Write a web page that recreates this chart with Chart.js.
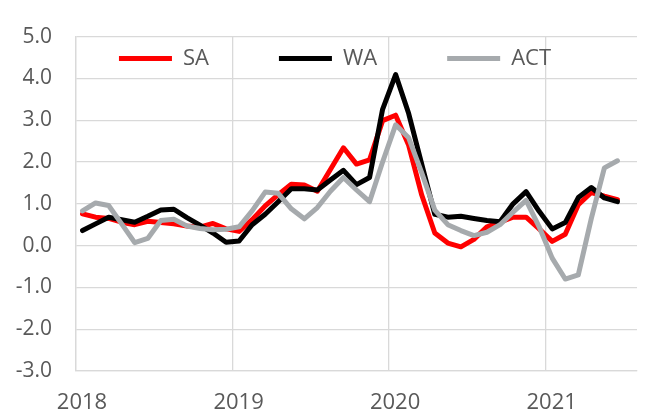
<!DOCTYPE html>
<html lang="en">
<head>
    <meta charset="UTF-8">
    <title>SA, WA, ACT</title>
    <script src="https://cdn.jsdelivr.net/npm/chart.js@4.4.1/dist/chart.umd.min.js"></script>
    <style>
        html, body { margin: 0; padding: 0; background: #fff; }
        #wrap { position: relative; width: 649px; height: 412px; overflow: hidden; }
    </style>
</head>
<body>
    <div id="wrap"><canvas id="chart"></canvas></div>

    <script>
        // Monthly series, Jan 2018 - Jun 2021
        const months = [
            'Jan-18', 'Feb-18', 'Mar-18', 'Apr-18', 'May-18', 'Jun-18', 'Jul-18', 'Aug-18', 'Sep-18', 'Oct-18', 'Nov-18', 'Dec-18',
            'Jan-19', 'Feb-19', 'Mar-19', 'Apr-19', 'May-19', 'Jun-19', 'Jul-19', 'Aug-19', 'Sep-19', 'Oct-19', 'Nov-19', 'Dec-19',
            'Jan-20', 'Feb-20', 'Mar-20', 'Apr-20', 'May-20', 'Jun-20', 'Jul-20', 'Aug-20', 'Sep-20', 'Oct-20', 'Nov-20', 'Dec-20',
            'Jan-21', 'Feb-21', 'Mar-21', 'Apr-21', 'May-21', 'Jun-21'
        ];
        const years = ['2018', '2019', '2020', '2021'];
        const yTicks = [-3, -2, -1, 0, 1, 2, 3, 4, 5];

        const sa = [
            0.76, 0.68, 0.65, 0.56, 0.50, 0.58, 0.55, 0.52, 0.47, 0.44, 0.53, 0.40,
            0.34, 0.62, 0.95, 1.22, 1.47, 1.45, 1.30, 1.82, 2.34, 1.95, 2.05, 2.99,
            3.12, 2.40, 1.21, 0.30, 0.06, -0.03, 0.15, 0.45, 0.56, 0.68, 0.68, 0.40,
            0.10, 0.27, 0.98, 1.27, 1.18, 1.10
        ];
        const wa = [
            0.36, 0.52, 0.68, 0.62, 0.56, 0.70, 0.85, 0.87, 0.67, 0.49, 0.30, 0.08,
            0.11, 0.50, 0.75, 1.05, 1.36, 1.36, 1.33, 1.57, 1.80, 1.46, 1.63, 3.26,
            4.09, 3.16, 1.95, 0.75, 0.68, 0.70, 0.65, 0.60, 0.57, 1.00, 1.29, 0.82,
            0.40, 0.55, 1.15, 1.39, 1.14, 1.05
        ];
        const act = [
            0.83, 1.02, 0.96, 0.52, 0.07, 0.17, 0.60, 0.63, 0.47, 0.41, 0.38, 0.39,
            0.45, 0.83, 1.28, 1.25, 0.88, 0.64, 0.91, 1.30, 1.63, 1.33, 1.05, 2.00,
            2.89, 2.58, 1.74, 0.85, 0.50, 0.36, 0.24, 0.32, 0.50, 0.80, 1.08, 0.45,
            -0.30, -0.80, -0.70, 0.65, 1.86, 2.03
        ];

        // each month is plotted in the middle of its slot
        const toPoints = arr => arr.map((v, i) => ({ x: i + 0.5, y: v }));
        const yearStarts = years.map(y => months.indexOf('Jan-' + y.slice(2)));

        const gridColor = '#d9d9d9';

        function series(label, values, color, order) {
            return {
                label: label,
                data: toPoints(values),
                borderColor: color,
                backgroundColor: color,
                borderWidth: 5,
                borderCapStyle: 'round',
                borderJoinStyle: 'round',
                pointRadius: 0,
                tension: 0,
                order: order
            };
        }

        // legend sits inside the plot on one row, a bit left of centre like the original
        const legendPlacer = {
            id: 'legendPlacer',
            afterInit(chart) {
                // 'chartArea' legends stack vertically by default, keep it as a row
                chart.legend.isHorizontal = () => true;
            },
            afterLayout(chart) {
                const lg = chart.legend;
                const ca = chart.chartArea;
                const pad = lg.options.labels.padding;
                lg.maxWidth = chart.width;
                lg.fit();
                const mid = ca.left + 259;
                lg.left = mid - lg.width / 2;
                lg.right = mid + lg.width / 2;
                lg.top = ca.top + 11 - pad;
                lg.bottom = lg.top + lg.height;
            }
        };

        Chart.defaults.font.family = "'Open Sans', sans-serif";
        Chart.defaults.color = '#595959';

        new Chart(document.getElementById('chart'), {
            type: 'line',
            data: {
                datasets: [
                    series('SA', sa, '#ff0000', 3),
                    series('WA', wa, '#000000', 2),
                    series('ACT', act, '#a6aaad', 1)
                ]
            },
            options: {
                responsive: true,
                maintainAspectRatio: false,
                animation: false,
                layout: { padding: { top: 20, right: 12, bottom: 0, left: 0 } },
                plugins: {
                    tooltip: { enabled: false },
                    legend: {
                        position: 'chartArea',
                        align: 'center',
                        labels: {
                            usePointStyle: true,
                            pointStyle: 'line',
                            pointStyleWidth: 53,
                            padding: 70,
                            color: '#595959',
                            font: { size: 22 },
                            sort: (a, b) => a.datasetIndex - b.datasetIndex
                        }
                    }
                },
                scales: {
                    x: {
                        type: 'linear',
                        min: 0,
                        max: months.length + 1,
                        afterBuildTicks: s => { s.ticks = yearStarts.map(v => ({ value: v })); },
                        afterFit: s => { s.height = 41; },
                        grid: { color: gridColor, lineWidth: 1.3, drawTicks: false },
                        border: { color: gridColor, width: 1.3 },
                        ticks: {
                            padding: 19,
                            labelOffset: 6,
                            maxRotation: 0,
                            autoSkip: false,
                            font: { size: 22 },
                            callback: v => years[yearStarts.indexOf(v)]
                        }
                    },
                    y: {
                        min: yTicks[0],
                        max: yTicks[yTicks.length - 1],
                        afterBuildTicks: s => { s.ticks = yTicks.map(v => ({ value: v })); },
                        afterFit: s => { s.width = 76; },
                        grid: { color: gridColor, lineWidth: 1.3, drawTicks: false },
                        border: { color: gridColor, width: 1.3 },
                        ticks: {
                            padding: 24,
                            font: { size: 21 },
                            callback: v => v.toFixed(1)
                        }
                    }
                }
            },
            plugins: [legendPlacer]
        });
    </script>
</body>
</html>
